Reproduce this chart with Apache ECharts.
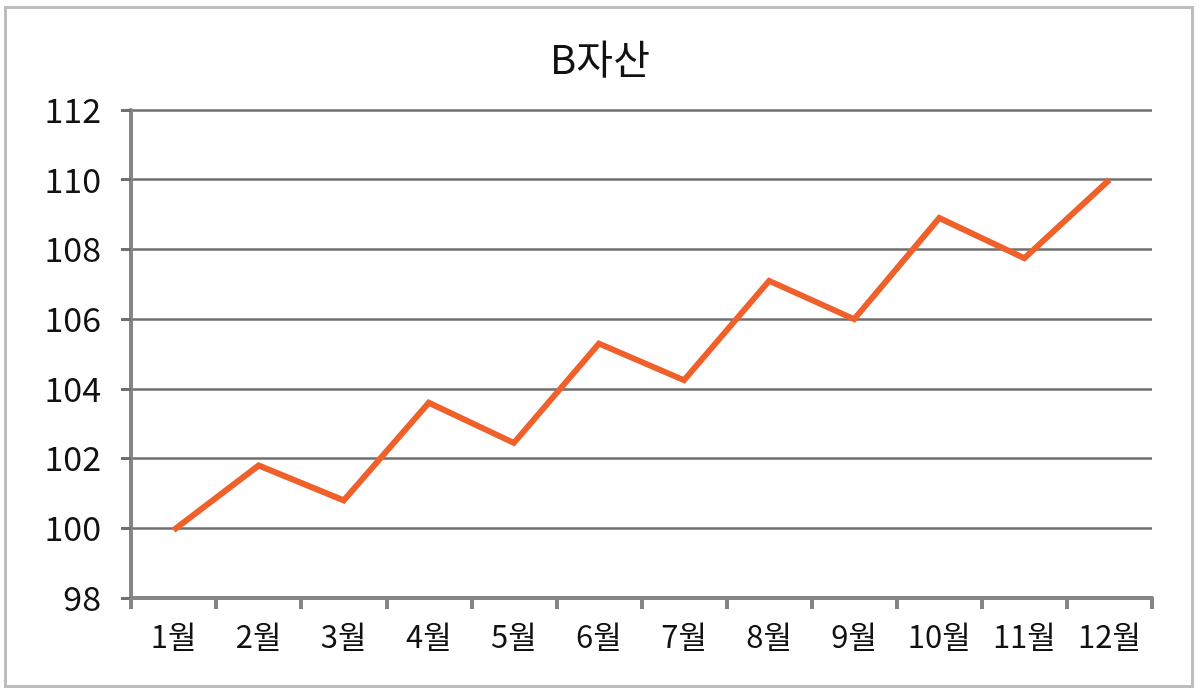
<!DOCTYPE html>
<html><head><meta charset="utf-8">
<script src="https://cdn.jsdelivr.net/npm/echarts@6/dist/echarts.min.js"></script>
<style>html,body{margin:0;padding:0;background:#fff}#c{width:1200px;height:692px}</style>
</head><body><div id="c"></div>
<script>
const titleText = 'B자산';
const categories = ['1월','2월','3월','4월','5월','6월','7월','8월','9월','10월','11월','12월'];
const values = [99.95, 101.8, 100.8, 103.6, 102.45, 105.3, 104.25, 107.1, 106.0, 108.9, 107.75, 110.0];
const yMin = 98, yMax = 112, yStep = 2;

const font = "'Noto Sans CJK KR', 'Noto Sans', sans-serif";
const chart = echarts.init(document.getElementById('c'), null, {renderer: 'canvas'});
chart.setOption({
  animation: false,
  backgroundColor: '#fff',
  graphic: [{
    type: 'rect', silent: true, z: -1,
    shape: {x: 5.5, y: 7.5, width: 1187, height: 679},
    style: {fill: 'none', stroke: '#bdbdbd', lineWidth: 3}
  }],
  title: {
    text: titleText, left: 'center', top: 34,
    textStyle: {fontFamily: font, fontSize: 40, fontWeight: 'normal', color: '#111'}
  },
  grid: {left: 131, right: 48, top: 110, bottom: 94, containLabel: false},
  xAxis: {
    type: 'category', data: categories, boundaryGap: true,
    axisLine: {lineStyle: {color: '#858585', width: 4}},
    axisTick: {show: true, alignWithLabel: false, length: 11, lineStyle: {color: '#858585', width: 4}},
    axisLabel: {fontFamily: font, fontSize: 31, color: '#111', margin: 23, interval: 0}
  },
  yAxis: {
    type: 'value', min: yMin, max: yMax, interval: yStep,
    axisLine: {show: true, lineStyle: {color: '#858585', width: 4}},
    axisTick: {show: true, length: 10, inside: false, lineStyle: {color: '#6f6f6f', width: 3}},
    splitLine: {show: true, lineStyle: {color: '#6f6f6f', width: 2.5}},
    axisLabel: {fontFamily: font, fontSize: 34, color: '#111', margin: 30}
  },
  series: [{
    type: 'line', data: values, symbol: 'none',
    lineStyle: {color: '#f0602a', width: 6, join: 'miter', cap: 'butt'},
    itemStyle: {color: '#f0602a'}
  }]
});
</script></body></html>
